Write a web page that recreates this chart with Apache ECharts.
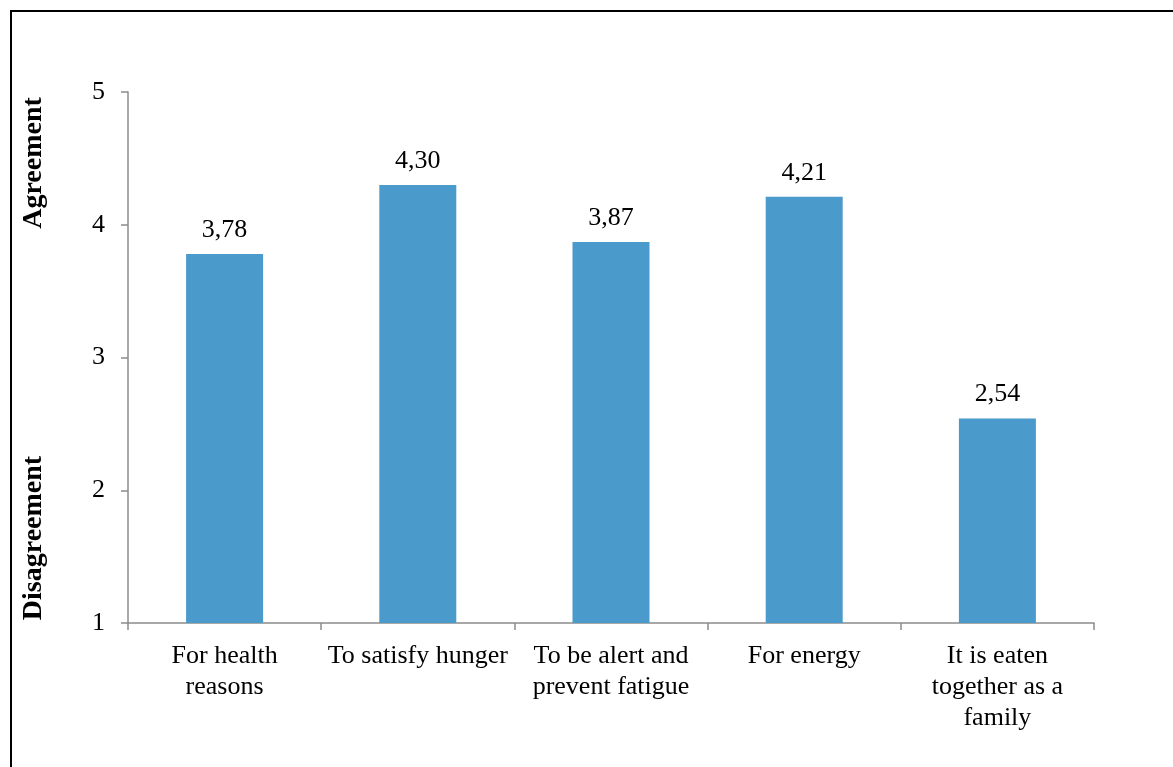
<!DOCTYPE html>
<html>
<head>
<meta charset="utf-8">
<script src="https://cdn.jsdelivr.net/npm/echarts@6/dist/echarts.min.js"></script>
<style>
  html, body { margin: 0; padding: 0; background: #fff; }
  #chart { width: 1173px; height: 767px; }
</style>
</head>
<body>
<div id="chart"></div>
<script>
// Reasons for eating breakfast — mean agreement score (1–5 scale)
const categories = [
  'For health\nreasons',
  'To satisfy hunger',
  'To be alert and\nprevent fatigue',
  'For energy',
  'It is eaten\ntogether as a\nfamily'
];
const meanScores = [3.78, 4.30, 3.87, 4.21, 2.54];
const scaleTicks = [1, 2, 3, 4, 5];

const FONT = '"Liberation Serif", "Times New Roman", serif';
const AXIS_GREY = '#8c8c8c';

const chart = echarts.init(document.getElementById('chart'));
chart.setOption({
  backgroundColor: '#fff',
  animation: false,
  grid: { left: 128, top: 92, right: 79, bottom: 144 },
  graphic: [
    {
      type: 'rect',
      shape: { x: 11, y: 11, width: 1200, height: 800 },
      style: { fill: 'none', stroke: '#000', lineWidth: 2 }
    },
    {
      type: 'text',
      x: 34, y: 163, rotation: Math.PI / 2,
      style: {
        text: 'Agreement', font: 'bold 28px ' + FONT, fill: '#000',
        align: 'center', verticalAlign: 'middle'
      }
    },
    {
      type: 'text',
      x: 34, y: 538, rotation: Math.PI / 2,
      style: {
        text: 'Disagreement', font: 'bold 28px ' + FONT, fill: '#000',
        align: 'center', verticalAlign: 'middle'
      }
    }
  ],
  xAxis: {
    type: 'category',
    data: categories,
    axisLine: { lineStyle: { color: AXIS_GREY, width: 1.5 } },
    axisTick: { show: true, length: 7, lineStyle: { color: AXIS_GREY, width: 1.5 } },
    axisLabel: {
      interval: 0, margin: 18, color: '#000',
      fontFamily: FONT, fontSize: 26, lineHeight: 31
    }
  },
  yAxis: {
    type: 'value',
    min: scaleTicks[0],
    max: scaleTicks[scaleTicks.length - 1],
    interval: 1,
    splitLine: { show: false },
    axisLine: { show: true, lineStyle: { color: AXIS_GREY, width: 1.5 } },
    axisTick: { show: true, length: 7, lineStyle: { color: AXIS_GREY, width: 1.5 } },
    axisLabel: {
      margin: 23, color: '#000', fontFamily: FONT, fontSize: 26,
      padding: [3, 0, 0, 0]
    }
  },
  series: [{
    type: 'bar',
    data: meanScores,
    barWidth: 77,
    itemStyle: { color: '#4a9bcb' },
    label: {
      show: true,
      position: 'top',
      distance: 11,
      color: '#000',
      fontFamily: FONT,
      fontSize: 26,
      formatter: p => p.value.toFixed(2).replace('.', ',')
    }
  }]
});
</script>
</body>
</html>
